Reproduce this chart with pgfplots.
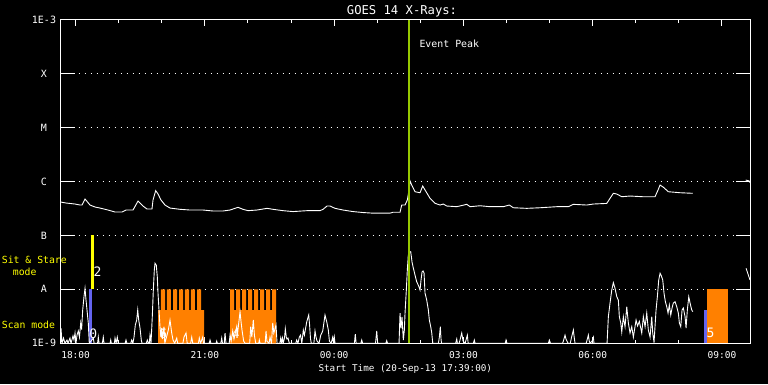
\documentclass[border=0pt]{standalone}
\usepackage{pgfplots}
\pgfplotsset{compat=1.18}
\usepackage{fontspec}
\setmainfont{DejaVu Sans Mono}
\definecolor{peak}{RGB}{150,200,0}
\definecolor{scanorange}{RGB}{255,128,0}
\definecolor{sitblue}{RGB}{100,100,240}
\definecolor{sityellow}{RGB}{255,255,0}
\begin{document}
\begin{tikzpicture}
\path[use as bounding box, fill=black] (0,0) rectangle (768pt,384pt);
\begin{axis}[
  at={(60.5pt,40.7pt)}, anchor=south west,
  scale only axis, width=689.5pt, height=323.8pt,
  xmin=17.65, xmax=33.65,
  ymode=log, ymin=1e-9, ymax=1e-3,
  axis line style={white, line width=1pt},
  xtick={18,21,24,27,30,33},
  xticklabels={18:00,21:00,00:00,03:00,06:00,09:00},
  minor xtick={19,20,22,23,25,26,28,29,31,32},
  ytick={1e-9,1e-8,1e-7,1e-6,1e-5,1e-4,1e-3},
  yticklabels={1E-9,A,B,C,M,X,1E-3},
  yminorticks=false,
  tick align=inside,
  major tick length=14pt,
  minor tick length=3.5pt,
  tick style={white, line width=1pt},
  xtick style={/pgfplots/major tick length=6pt},
  ymajorgrids,
  major grid style={white, line width=1pt, dash pattern=on 1pt off 5pt},
  xticklabel style={anchor=center, yshift=-11.7pt, text=white, font=\fontsize{9.5}{10}\selectfont},
  yticklabel style={anchor=center, xshift=-16.5pt, text=white, font=\fontsize{10}{10}\selectfont},
]
% observation bars
\addplot[fill=sitblue, draw=none] coordinates {(18.311,1e-9) (18.311,1e-8) (18.381,1e-8) (18.381,1e-9)};
\addplot[fill=sityellow, draw=none] coordinates {(18.358,1e-8) (18.358,1e-7) (18.420,1e-7) (18.420,1e-8)};
\addplot[fill=scanorange, draw=none] coordinates {
(19.913,1e-9) (19.913,4.14e-9) (19.982,4.14e-9) (19.982,1e-8) (20.075,1e-8) (20.075,4.14e-9)
(20.121,4.14e-9) (20.121,1e-8) (20.214,1e-8) (20.214,4.14e-9)
(20.261,4.14e-9) (20.261,1e-8) (20.354,1e-8) (20.354,4.14e-9)
(20.400,4.14e-9) (20.400,1e-8) (20.493,1e-8) (20.493,4.14e-9)
(20.539,4.14e-9) (20.539,1e-8) (20.632,1e-8) (20.632,4.14e-9)
(20.678,4.14e-9) (20.678,1e-8) (20.771,1e-8) (20.771,4.14e-9)
(20.818,4.14e-9) (20.818,1e-8) (20.911,1e-8) (20.911,4.14e-9)
(20.980,4.14e-9) (20.980,1e-9)};
\addplot[fill=scanorange, draw=none] coordinates {
(21.584,1e-9) (21.584,1e-8) (21.677,1e-8) (21.677,4.14e-9)
(21.723,4.14e-9) (21.723,1e-8) (21.816,1e-8) (21.816,4.14e-9)
(21.863,4.14e-9) (21.863,1e-8) (21.956,1e-8) (21.956,4.14e-9)
(22.002,4.14e-9) (22.002,1e-8) (22.095,1e-8) (22.095,4.14e-9)
(22.141,4.14e-9) (22.141,1e-8) (22.234,1e-8) (22.234,4.14e-9)
(22.280,4.14e-9) (22.280,1e-8) (22.373,1e-8) (22.373,4.14e-9)
(22.420,4.14e-9) (22.420,1e-8) (22.513,1e-8) (22.513,4.14e-9)
(22.559,4.14e-9) (22.559,1e-8) (22.651,1e-8) (22.651,1e-9)};
\addplot[fill=sitblue, draw=none] coordinates {(32.584,1e-9) (32.584,4.14e-9) (32.653,4.14e-9) (32.653,1e-9)};
\addplot[fill=scanorange, draw=none] coordinates {(32.653,1e-9) (32.653,1e-8) (33.134,1e-8) (33.134,1e-9)};
% long channel
\addplot[white, line width=0.9pt] coordinates {
(17.650,4.15e-7) (17.778,3.98e-7) (17.987,3.81e-7) (18.103,3.65e-7) (18.149,3.65e-7) (18.219,4.72e-7) (18.335,3.65e-7) (18.451,3.35e-7) (18.567,3.21e-7) (18.752,2.95e-7) (18.915,2.71e-7) (19.078,2.71e-7) (19.171,2.95e-7) (19.333,2.95e-7) (19.449,4.33e-7) (19.565,3.50e-7) (19.657,3.08e-7) (19.773,3.08e-7) (19.797,4.52e-7) (19.859,6.75e-7) (19.913,5.84e-7) (19.982,4.52e-7) (20.075,3.65e-7) (20.191,3.21e-7) (20.423,3.04e-7) (20.655,2.95e-7) (20.957,2.95e-7) (21.189,2.83e-7) (21.421,2.83e-7) (21.584,2.95e-7) (21.700,3.17e-7) (21.769,3.31e-7) (21.885,3.04e-7) (22.001,2.87e-7) (22.210,2.95e-7) (22.442,3.17e-7) (22.581,3.04e-7) (22.814,2.87e-7) (23.046,2.76e-7) (23.371,2.87e-7) (23.672,2.87e-7) (23.742,3.04e-7) (23.835,3.50e-7) (23.904,3.50e-7) (24.020,3.17e-7) (24.206,2.95e-7) (24.438,2.76e-7) (24.670,2.65e-7) (24.902,2.58e-7) (25.297,2.58e-7) (25.366,2.68e-7) (25.529,2.68e-7) (25.568,3.65e-7) (25.645,3.65e-7) (25.698,4.52e-7) (25.745,7.45e-7) (25.761,1.02e-6) (25.800,8.57e-7) (25.877,6.44e-7) (25.993,6.17e-7) (26.055,8.21e-7) (26.109,6.93e-7) (26.225,4.86e-7) (26.341,3.93e-7) (26.457,3.65e-7) (26.534,3.81e-7) (26.612,3.50e-7) (26.845,3.40e-7) (27.077,3.76e-7) (27.154,3.40e-7) (27.386,3.54e-7) (27.618,3.40e-7) (27.926,3.40e-7) (28.065,3.65e-7) (28.158,3.25e-7) (28.469,3.17e-7) (28.778,3.25e-7) (29.165,3.40e-7) (29.434,3.40e-7) (29.550,3.76e-7) (29.861,3.65e-7) (30.015,3.81e-7) (30.326,3.91e-7) (30.402,4.86e-7) (30.479,6.02e-7) (30.558,5.84e-7) (30.674,5.20e-7) (30.866,5.36e-7) (31.168,5.20e-7) (31.446,5.20e-7) (31.516,6.93e-7) (31.562,8.57e-7) (31.639,7.80e-7) (31.755,6.44e-7) (32.027,6.17e-7) (32.321,6.02e-7)};
\addplot[white, line width=0.9pt] coordinates {(33.55,1.06e-6) (33.63,1.02e-6) (33.65,9.5e-7)};
% short channel
\addplot[white, line width=0.9pt] coordinates {
(17.650,1e-9) (17.662,1.9e-9) (17.685,1e-9) (17.720,1.25e-9) (17.754,1e-9) (17.801,1.15e-9) (17.824,1e-9) (17.870,1.25e-9) (17.894,1e-9) (17.940,1.37e-9) (17.963,1.15e-9) (17.987,1.55e-9) (18.010,1e-9) (18.033,1.42e-9) (18.063,1.69e-9) (18.090,1.3e-9) (18.119,2.38e-9) (18.140,1.8e-9) (18.165,4.14e-9) (18.195,7.3e-9) (18.219,1.045e-8) (18.242,6.34e-9) (18.272,3.64e-9) (18.295,2.38e-9) (18.318,1e-9)
(18.411,1.25e-9) (18.43,1e-9) (18.51,1e-9) (18.527,1.3e-9) (18.545,1e-9) (18.62,1e-9) (18.643,1.3e-9) (18.66,1e-9) (18.80,1e-9) (18.815,1.15e-9) (18.83,1e-9) (18.90,1e-9) (18.915,1.25e-9) (18.94,1e-9) (18.968,1.3e-9) (18.99,1e-9) (19.15,1e-9) (19.170,1.15e-9) (19.19,1e-9) (19.28,1e-9) (19.302,1.15e-9) (19.33,1e-9) (19.356,1.3e-9) (19.386,2.18e-9) (19.418,2.7e-9) (19.442,4.14e-9) (19.465,2.7e-9) (19.495,1.92e-9) (19.525,1.15e-9) (19.541,1e-9) (19.64,1e-9) (19.664,1.15e-9) (19.69,1e-9) (19.71,1e-9) (19.727,1.42e-9) (19.750,1e-9) (19.780,3.11e-9) (19.804,9.72e-9) (19.827,2.28e-8) (19.843,3.04e-8) (19.873,2.8e-8) (19.896,1.71e-8) (19.913,8.44e-9) (19.936,4.14e-9) (19.959,2.03e-9) (19.982,1.3e-9)
(19.999,1.92e-9) (20.015,1.2e-9) (20.052,2.03e-9) (20.07,1e-9) (20.098,1.2e-9) (20.152,1.76e-9) (20.191,2.7e-9) (20.231,1.55e-9) (20.261,1.15e-9) (20.30,1e-9) (20.347,1.25e-9) (20.37,1e-9) (20.49,1e-9) (20.516,1.3e-9) (20.563,1.55e-9) (20.59,1e-9) (20.67,1e-9) (20.695,1.3e-9) (20.72,1e-9) (20.85,1e-9) (20.871,1.25e-9) (20.90,1e-9) (20.950,1.3e-9) (20.97,1e-9) (21.10,1e-9) (21.120,1.15e-9) (21.14,1e-9) (21.26,1e-9) (21.275,1.1e-9) (21.29,1e-9) (21.37,1e-9) (21.391,1.25e-9) (21.41,1e-9) (21.45,1e-9) (21.468,1.55e-9) (21.49,1e-9) (21.565,1e-9) (21.584,1.42e-9) (21.61,1.1e-9) (21.646,1.69e-9) (21.676,1.2e-9) (21.739,2.03e-9) (21.755,1.4e-9) (21.776,2.03e-9) (21.816,3.85e-9) (21.84,2.5e-9) (21.862,1.76e-9) (21.90,1.1e-9) (21.932,1e-9)
(22.04,1e-9) (22.064,2.03e-9) (22.09,1.3e-9) (22.124,2.7e-9) (22.15,1.4e-9) (22.18,1e-9) (22.25,1e-9) (22.264,1.15e-9) (22.28,1e-9) (22.40,1e-9) (22.419,1.69e-9) (22.44,1.1e-9) (22.49,1e-9) (22.512,1.3e-9) (22.545,1e-9) (22.575,2.38e-9) (22.60,1.55e-9) (22.651,2.18e-9) (22.675,1e-9) (22.74,1e-9) (22.760,1.25e-9) (22.78,1e-9) (22.80,1.25e-9) (22.82,1e-9) (22.850,1.3e-9) (22.867,1.85e-9) (22.89,1.3e-9) (22.906,1.2e-9) (22.93,1.25e-9) (22.96,1e-9) (23.11,1e-9) (23.131,1.15e-9) (23.16,1e-9) (23.192,1.3e-9) (23.22,1.42e-9) (23.25,1e-9) (23.285,1.76e-9) (23.31,1.42e-9) (23.364,2.5e-9) (23.410,3.35e-9) (23.43,2.2e-9) (23.452,1.2e-9) (23.47,1e-9) (23.53,1e-9) (23.556,1.69e-9) (23.58,1.3e-9) (23.603,1.1e-9) (23.65,1e-9) (23.689,1.42e-9) (23.735,1.69e-9) (23.788,3.35e-9) (23.828,2.5e-9) (23.865,1.76e-9) (23.89,1.1e-9) (23.93,1e-9) (23.967,1.3e-9) (23.985,1e-9) (24.004,1.3e-9) (24.02,1e-9)
(24.47,1e-9) (24.491,1.48e-9) (24.51,1e-9) (24.62,1e-9) (24.640,1.15e-9) (24.66,1e-9) (24.96,1e-9) (24.988,1.69e-9) (25.01,1e-9) (25.20,1e-9) (25.220,1.12e-9) (25.24,1e-9) (25.506,1e-9)
(25.529,3.64e-9) (25.552,1.9e-9) (25.575,3.1e-9) (25.605,1.15e-9) (25.629,1.76e-9) (25.645,3.64e-9) (25.675,9.72e-9) (25.698,2.28e-8) (25.721,4.33e-8) (25.749,4.92e-8) (25.777,4.98e-8) (25.807,3.21e-8) (25.837,2.48e-8) (25.877,1.84e-8) (25.916,1.38e-8) (25.958,1.17e-8) (25.993,9.72e-9) (26.016,1.49e-8) (26.039,2.09e-8) (26.063,2.19e-8) (26.086,2.01e-8) (26.109,8.5e-9) (26.148,6.34e-9) (26.186,4.14e-9) (26.209,2.7e-9) (26.241,2.03e-9) (26.265,1.55e-9) (26.288,1e-9)
(26.42,1e-9) (26.441,1.3e-9) (26.464,2.03e-9) (26.48,1.2e-9) (26.492,1e-9) (26.82,1e-9) (26.845,1.2e-9) (26.86,1e-9) (26.90,1e-9) (26.921,1.15e-9) (26.961,1.55e-9) (26.98,1.25e-9) (26.991,1.1e-9) (27.04,1e-9) (27.060,1.15e-9) (27.091,1.42e-9) (27.11,1e-9) (27.23,1e-9) (27.253,1.15e-9) (27.27,1e-9) (27.97,1e-9) (27.989,1.15e-9) (28.01,1e-9) (28.97,1e-9) (28.994,1.15e-9) (29.02,1e-9) (29.30,1e-9) (29.319,1.1e-9) (29.358,1.42e-9) (29.38,1.2e-9) (29.404,1.1e-9) (29.43,1e-9) (29.48,1e-9) (29.509,1.3e-9) (29.551,1.76e-9) (29.57,1.3e-9) (29.59,1e-9) (29.85,1e-9) (29.869,1.15e-9) (29.899,1.42e-9) (29.92,1.1e-9) (29.94,1e-9) (29.985,1.1e-9) (30.015,1.3e-9) (30.03,1e-9) (30.333,1e-9)
(30.363,3.11e-9) (30.402,5.58e-9) (30.442,9.72e-9) (30.479,1.33e-8) (30.518,1.045e-8) (30.558,7.3e-9) (30.595,6.34e-9) (30.618,3.11e-9) (30.651,2.38e-9) (30.674,1.62e-9) (30.711,3.11e-9) (30.750,2.03e-9) (30.790,4.77e-9) (30.827,2.38e-9) (30.866,1.55e-9) (30.906,2.03e-9) (30.943,1.3e-9) (31.006,2.7e-9) (31.04,2.1e-9) (31.082,2.55e-9) (31.138,1.55e-9) (31.175,3.11e-9) (31.215,2.03e-9) (31.254,3.64e-9) (31.291,1.76e-9) (31.331,1.3e-9) (31.370,3.11e-9) (31.393,1.55e-9) (31.423,1.05e-9) (31.470,4.14e-9) (31.500,7.3e-9) (31.532,1.49e-8) (31.563,1.98e-8) (31.593,1.77e-8) (31.625,1.49e-8) (31.655,8.44e-9) (31.686,5.9e-9) (31.718,4.77e-9) (31.748,3.64e-9) (31.778,5.13e-9) (31.811,3.34e-9) (31.841,4.51e-9) (31.871,5.58e-9) (31.911,5.9e-9) (31.950,4.77e-9) (31.987,3.64e-9) (32.011,2.38e-9) (32.043,2.03e-9) (32.073,4.14e-9) (32.103,4.51e-9) (32.143,3.11e-9) (32.166,1.92e-9) (32.196,4.14e-9) (32.229,7.3e-9) (32.259,5.58e-9) (32.298,4.14e-9) (32.322,3.85e-9)};
\addplot[white, line width=0.9pt] coordinates {(33.56,2.45e-8) (33.65,1.49e-8)};
% event peak
\addplot[peak, line width=2.4pt] coordinates {(25.738,1e-9) (25.738,1e-3)};
% bar numbers
\node[text=white, inner sep=0, font=\fontsize{13}{13}\selectfont] at (axis cs:18.509,2.14e-8) {2};
\node[text=white, inner sep=0, font=\fontsize{13}{13}\selectfont] at (axis cs:18.411,1.53e-9) {0};
\node[text=white, inner sep=0, font=\fontsize{13}{13}\selectfont] at (axis cs:20.036,1.49e-9) {6};
\node[text=white, inner sep=0, font=\fontsize{13}{13}\selectfont] at (axis cs:21.718,1.51e-9) {4};
\node[text=white, inner sep=0, font=\fontsize{13}{13}\selectfont] at (axis cs:32.734,1.55e-9) {5};
\end{axis}
\node[anchor=base, inner sep=0, text=white, font=\fontsize{12.2}{12}\selectfont] at (402pt,370pt) {GOES 14 X-Rays:};
\node[anchor=base, inner sep=0, text=white, font=\fontsize{9.3}{10}\selectfont] at (405.3pt,12.3pt) {Start Time (20-Sep-13 17:39:00)};
\node[anchor=base west, inner sep=0, text=white, font=\fontsize{9.9}{10}\selectfont] at (419.3pt,336.7pt) {Event Peak};
\node[anchor=base west, inner sep=0, text=sityellow, font=\fontsize{9.8}{10}\selectfont] at (1.7pt,120.7pt) {Sit \& Stare};
\node[anchor=base west, inner sep=0, text=sityellow, font=\fontsize{9.8}{10}\selectfont] at (12.7pt,109pt) {mode};
\node[anchor=base west, inner sep=0, text=sityellow, font=\fontsize{9.8}{10}\selectfont] at (1.7pt,55.7pt) {Scan mode};
\end{tikzpicture}
\end{document}
